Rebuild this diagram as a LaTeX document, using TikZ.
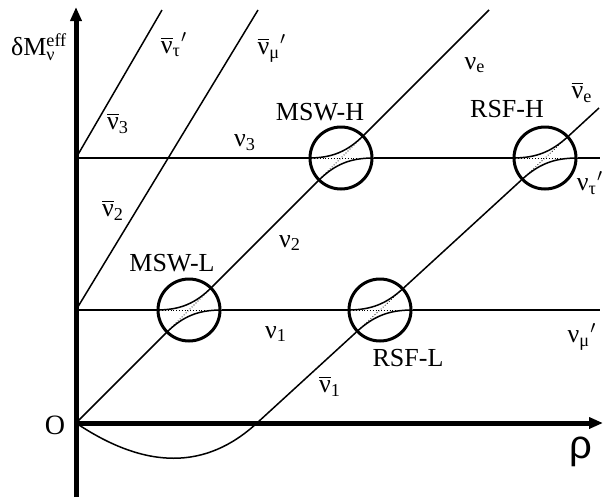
\documentclass[tikz,border=0pt]{standalone}
\usepackage{amsmath}
\usepackage{fontspec}
\setmainfont{Liberation Serif}
\newfontfamily\rhofont{Liberation Sans}
\usetikzlibrary{arrows.meta}

\newcommand\nuplain{\text{ν}}
\newcommand\nubar{\overline{\text{ν}}}

\begin{document}
\begin{tikzpicture}[x=0.5pt,y=0.5pt,font=\fontsize{13}{15}\selectfont,
    axis/.style={line width=2.5pt,-{Triangle[length=7pt,width=5.5pt]}},
    level/.style={line width=0.75pt},
    resonance/.style={circle,draw,line width=1.5pt,minimum size=31pt,inner sep=0pt},
    diab/.style={densely dotted,line width=0.4pt}]
  \useasboundingbox (0,0) rectangle (605,500);
  % axes
  \coordinate (O) at (76,77);
  \coordinate (ybot) at (76,3);
  \coordinate (ytop) at (76,493);
  \coordinate (xend) at (603,77);
  \draw[axis] (ybot) -- (ytop);
  \draw[axis] (O) -- (xend);
  % end points of the levels
  \coordinate (L1) at (76,190);
  \coordinate (L1end) at (600,190);
  \coordinate (L3) at (76,342);
  \coordinate (L3end) at (600,342);
  \coordinate (tautop) at (162,490);
  \coordinate (mutop) at (258,490);
  \coordinate (nuetop) at (489,490);
  \coordinate (cross) at (257,77);
  \coordinate (nuebtop) at (599,392);
  % resonance regions
  \node[resonance] (mswl) at (189,190) {};
  \node[resonance] (mswh) at (341,342) {};
  \node[resonance] (rsfl) at (380,190) {};
  \node[resonance] (rsfh) at (545,342) {};
  % levels
  \draw[level] (L1) -- (mswl.west) (mswl.east) -- (rsfl.west) (rsfl.east) -- (L1end);
  \draw[level] (L3) -- (mswh.west) (mswh.east) -- (rsfh.west) (rsfh.east) -- (L3end);
  \draw[level] (L3) -- (tautop);
  \draw[level] (L1) -- (mutop);
  \draw[level] (O) -- (mswl.225) (mswl.45) -- (mswh.225) (mswh.45) -- (nuetop);
  \draw[level] (O) .. controls (146,30) and (206,30) .. (cross) -- (rsfl.223)
               (rsfl.43) -- (rsfh.223) (rsfh.43) -- (nuebtop);
  % avoided crossings
  \foreach \c/\a in {mswl/45,mswh/45,rsfl/43,rsfh/43} {
    \draw[level] (\c.west) to[out=0,in=180+\a] (\c.\a);
    \draw[level] (\c.180+\a) to[out=\a,in=180] (\c.east);
    \draw[diab] (\c.west) -- (\c.east);
    \draw[diab] (\c.180+\a) -- (\c.\a);
  }
  % labels
  \node (dmlab) [anchor=base west] at (4,445) {δM$_{\nuplain}^{\text{eff}}$};
  \node (olab) at (55,75) {\fontsize{14}{16}\selectfont O};
  \node (rholab) at (581,48) {\fontsize{20}{22}\selectfont\rhofont ρ};
  \node (taublab) at (174,455) {${\nubar_{\text{τ}}}'$};
  \node (mublab) at (272,452) {${\nubar_{\text{μ}}}'$};
  \node (n3blab) at (118,377) {$\nubar_{\text{3}}$};
  \node (n2blab) at (113,290) {$\nubar_{\text{2}}$};
  \node (n1blab) at (330,114) {$\nubar_{\text{1}}$};
  \node (neblab) at (582,408) {$\nubar_{\text{e}}$};
  \node (n3lab) at (245,357) {$\nuplain_{\text{3}}$};
  \node (n2lab) at (290,257) {$\nuplain_{\text{2}}$};
  \node (n1lab) at (276,166) {$\nuplain_{\text{1}}$};
  \node (nelab) at (475,435) {$\nuplain_{\text{e}}$};
  \node (taulab) at (590,317) {${\nuplain_{\text{τ}}}'$};
  \node (mulab) at (582,163) {${\nuplain_{\text{μ}}}'$};
  \node (mswhlab) at (320,388) {MSW-H};
  \node (mswllab) at (172,237) {MSW-L};
  \node (rsfhlab) at (507,391) {RSF-H};
  \node (rsfllab) at (408,142) {RSF-L};
\end{tikzpicture}
\end{document}
